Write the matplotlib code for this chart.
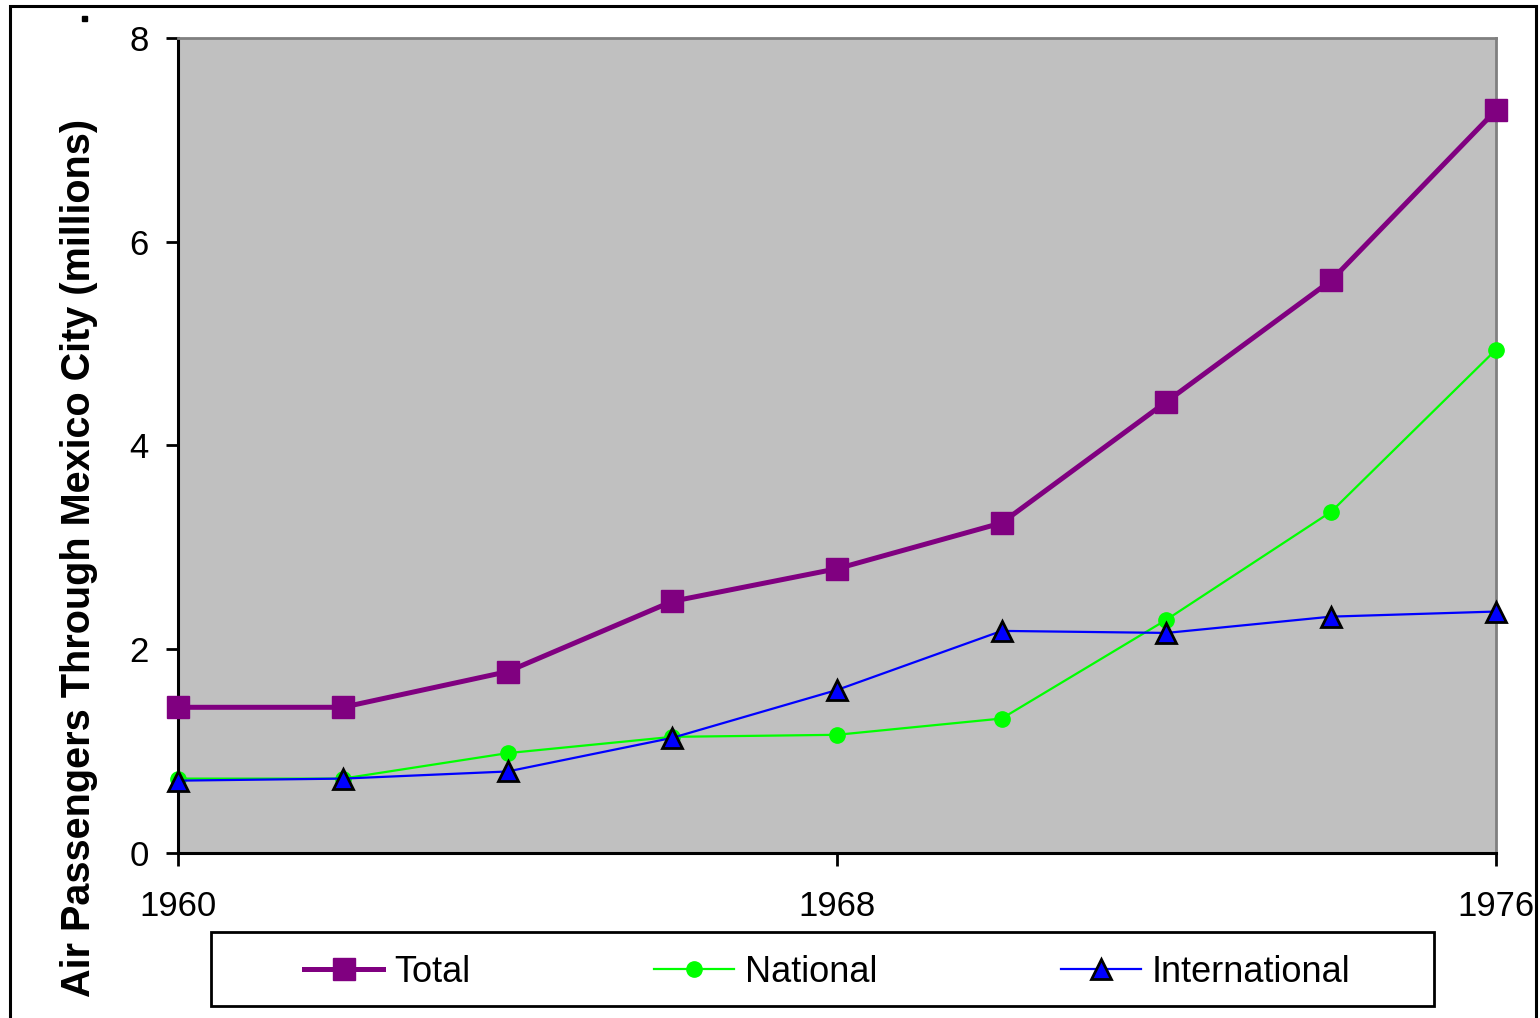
import matplotlib
matplotlib.use("Agg")
import matplotlib.pyplot as plt
from matplotlib.patches import Rectangle

plt.rcParams['font.family'] = ['Liberation Sans', 'DejaVu Sans']

years = [1960, 1962, 1964, 1966, 1968, 1970, 1972, 1974, 1976]
total = [1.43, 1.43, 1.78, 2.47, 2.79, 3.24, 4.43, 5.62, 7.29]
national = [0.73, 0.73, 0.98, 1.14, 1.16, 1.32, 2.29, 3.35, 4.94]
international = [0.71, 0.73, 0.80, 1.13, 1.60, 2.18, 2.16, 2.32, 2.37]

x_ticks = [1960, 1968, 1976]
y_ticks = [0, 2, 4, 6, 8]

fig = plt.figure(figsize=(15.4, 10.18), dpi=100)
ax = fig.add_axes([0.1156, 0.1621, 0.8558, 0.8006])
ax.set_facecolor('#C0C0C0')

ax.plot(years, total, color='#800080', lw=3.6, marker='s', ms=16,
        mfc='#800080', mec='#800080', label='Total', clip_on=False, zorder=3)
ax.plot(years, national, color='#00FF00', lw=1.6, marker='o', ms=11,
        mfc='#00FF00', mec='#00FF00', label='National', clip_on=False, zorder=4)
ax.plot(years, international, color='#0000FF', lw=1.6, marker='^', ms=14,
        mfc='#0000FF', mec='black', mew=2, label='International',
        clip_on=False, zorder=5)

ax.set_xlim(1960, 1976)
ax.set_ylim(0, 8)
ax.set_xticks(x_ticks)
ax.set_yticks(y_ticks)
ax.tick_params(axis='both', direction='out', length=9, width=2,
               labelsize=25)
ax.tick_params(axis='y', pad=12)
ax.tick_params(axis='x', pad=18)

for side in ['left', 'bottom']:
    ax.spines[side].set_color('black')
    ax.spines[side].set_linewidth(2.2)
for side in ['top', 'right']:
    ax.spines[side].set_color('#808080')
    ax.spines[side].set_linewidth(2)

ax.set_ylabel('Air Passengers Through Mexico City (millions)',
              fontsize=28.5, fontweight='bold')
ax.yaxis.set_label_coords(-0.061, 0.362)

# legend entries without frame, box drawn separately
leg = fig.legend(loc='center', bbox_to_anchor=(0.537, 1 - 972 / 1018),
                 ncol=3, fontsize=26, frameon=False, handlelength=2.2,
                 handletextpad=0.3, columnspacing=5.1)
fig.patches.append(Rectangle((211 / 1540, 1 - 1006 / 1018), 1223 / 1540, 74 / 1018,
                             transform=fig.transFigure, fill=False,
                             edgecolor='black', lw=2))

# outer chart frame and the stray dot near the top
fig.patches.append(Rectangle((10 / 1540, -0.02), 1526 / 1540, 1.02 - 6 / 1018,
                             transform=fig.transFigure, fill=False,
                             edgecolor='black', lw=2.2))
fig.patches.append(Rectangle((82 / 1540, 1 - 21 / 1018), 5 / 1540, 5 / 1018,
                             transform=fig.transFigure, color='black'))

fig.savefig('out.png', dpi=100)
